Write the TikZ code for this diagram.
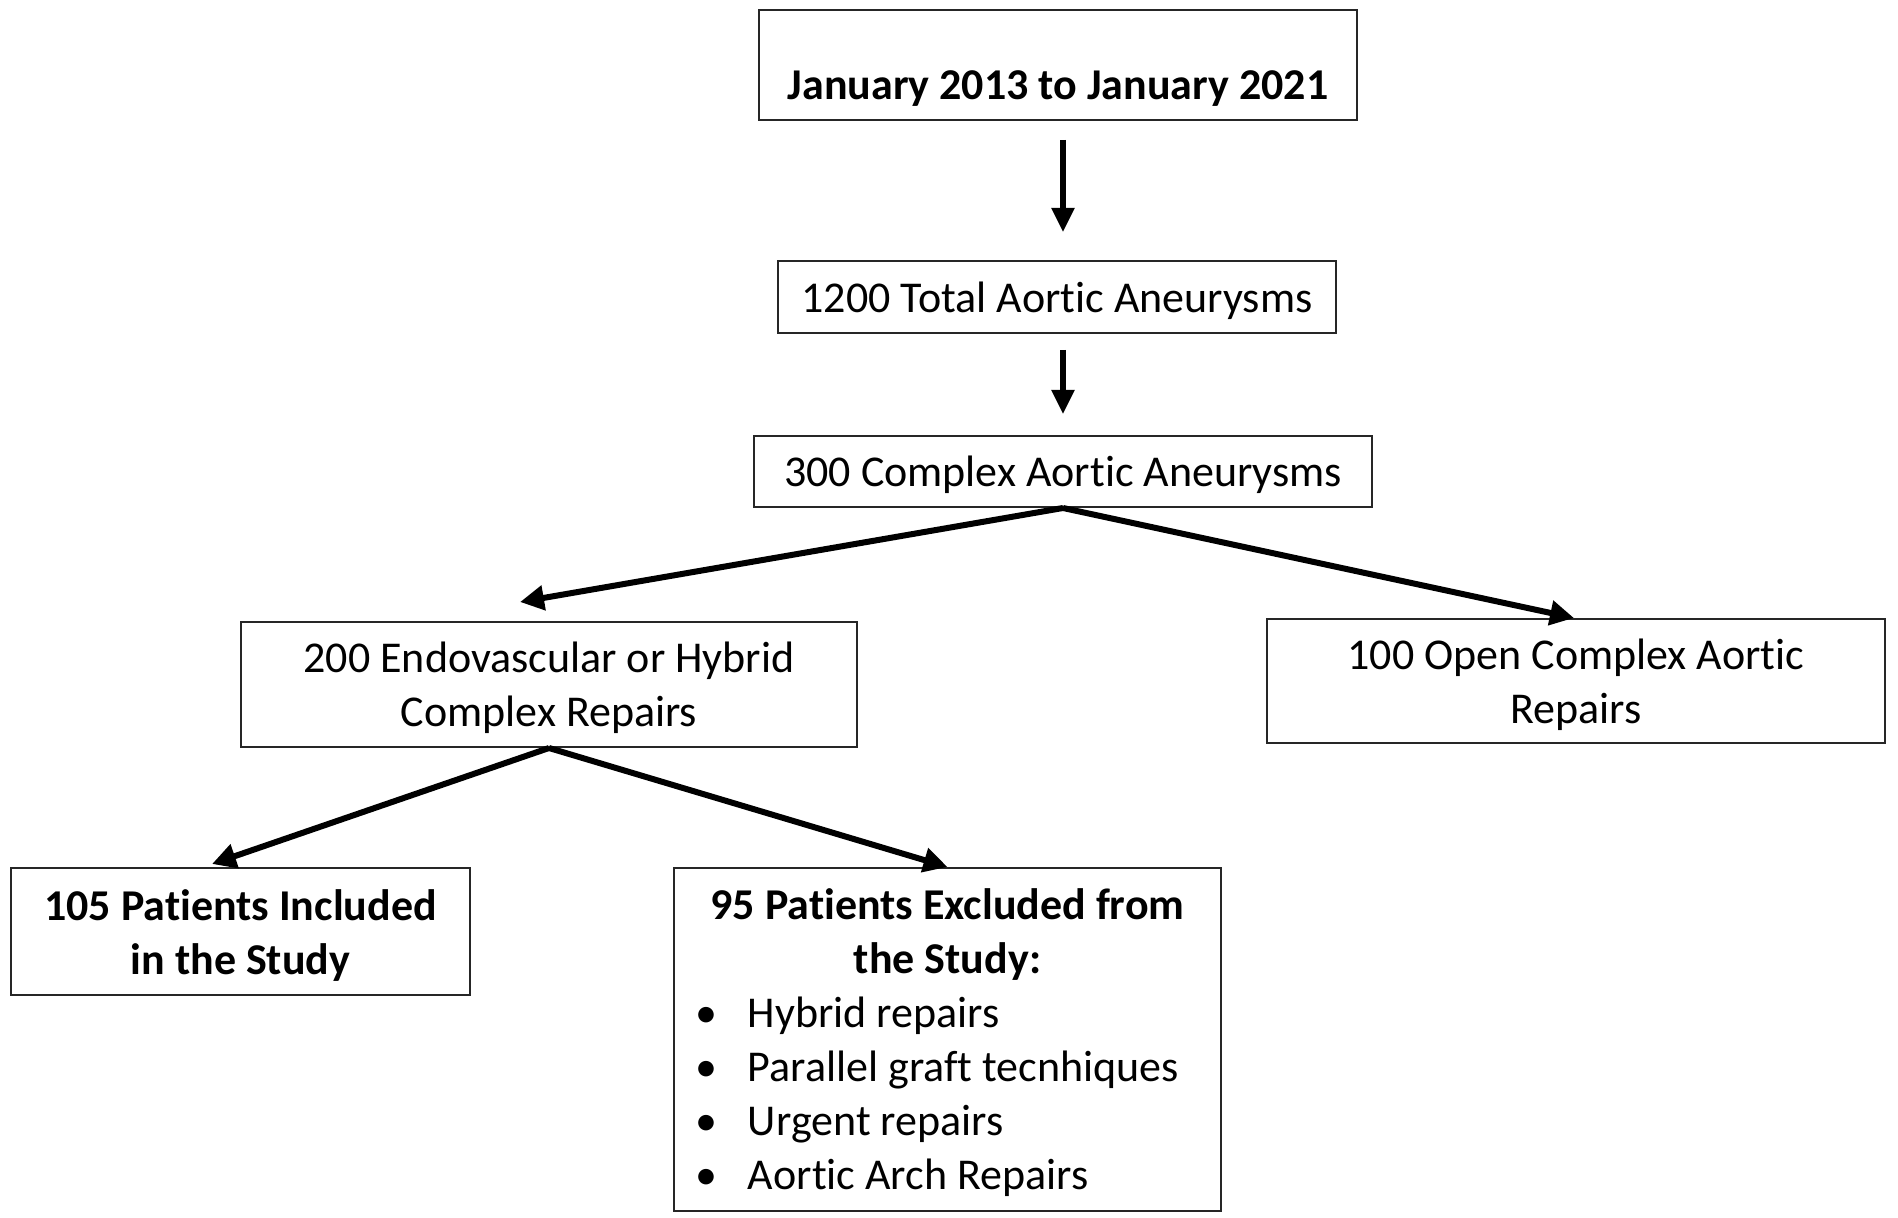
\documentclass[tikz,border=0pt]{standalone}
\usepackage{fontspec}
\setmainfont{Carlito}[Ligatures=CommonOff]
\usetikzlibrary{arrows.meta,calc}
\newcommand\topstr{\rule{0pt}{19pt}}
\begin{document}
\begin{tikzpicture}[x=0.5pt,y=-0.5pt,
  box/.style={draw=black!85, line width=1pt, rectangle, inner sep=0pt, align=center,
    font=\fontsize{22}{27}\selectfont},
  arr/.style={line width=3pt, -{Triangle[length=12pt,width=12pt]}},
  varr/.style={line width=2.6pt, -{Triangle[length=12pt,width=11pt]}}]
\useasboundingbox (0,0) rectangle (1898,1218);
\fill[white] (0,0) rectangle (1898,1218);

\node[box, minimum width=299pt, minimum height=55pt, text height=35pt, text depth=0pt]
  (b1) at (1058,65) {\bfseries January 2013 to January 2021};
\node[box, minimum width=279pt, minimum height=36pt] (b2) at (1057,297) {\topstr1200 Total Aortic Aneurysms};
\node[box, minimum width=309pt, minimum height=35.5pt] (b3) at (1063,471.5) {\topstr300 Complex Aortic Aneurysms};
\node[box, minimum width=308pt, minimum height=62.5pt] (b4) at (549,684.5) {\topstr200 Endovascular or Hybrid\\Complex Repairs};
\node[box, minimum width=309pt, minimum height=62pt] (b5) at (1576,681) {\topstr100 Open Complex Aortic\\Repairs};
\node[box, minimum width=229.5pt, minimum height=63.5pt] (b6) at (240.5,931.5) {\topstr\bfseries 105 Patients Included\\\bfseries in the Study};
\node[box, minimum width=273.5pt, minimum height=171.5pt] (b7) at (947.5,1039.5)
  {\topstr\makebox[273.5pt]{\bfseries 95 Patients Excluded from}\\
   \makebox[273.5pt]{\bfseries the Study:}\\
   \makebox[273.5pt][l]{\hspace*{10.5pt}\makebox[26.5pt][l]{\textbullet}Hybrid repairs}\\
   \makebox[273.5pt][l]{\hspace*{10.5pt}\makebox[26.5pt][l]{\textbullet}Parallel graft tecnhiques}\\
   \makebox[273.5pt][l]{\hspace*{10.5pt}\makebox[26.5pt][l]{\textbullet}Urgent repairs}\\
   \makebox[273.5pt][l]{\hspace*{10.5pt}\makebox[26.5pt][l]{\textbullet}Aortic Arch Repairs}};

\coordinate (t4) at (520,602);
\coordinate (t6) at (212,864);

\draw[varr, shorten <=9.5pt, shorten >=14pt] ([xshift=2.5pt]b1.south) -- ([xshift=3pt]b2.north);
\draw[varr, shorten <=8pt, shorten >=10.5pt] ([xshift=3pt]b2.south) -- (b3.north);
\draw[arr] (b3.south) -- (t4);
\draw[arr] (b3.south) -- ([xshift=-1pt]b5.north);
\draw[arr] (b4.south) -- (t6);
\draw[arr] (b4.south) -- (b7.north);
\end{tikzpicture}
\end{document}
